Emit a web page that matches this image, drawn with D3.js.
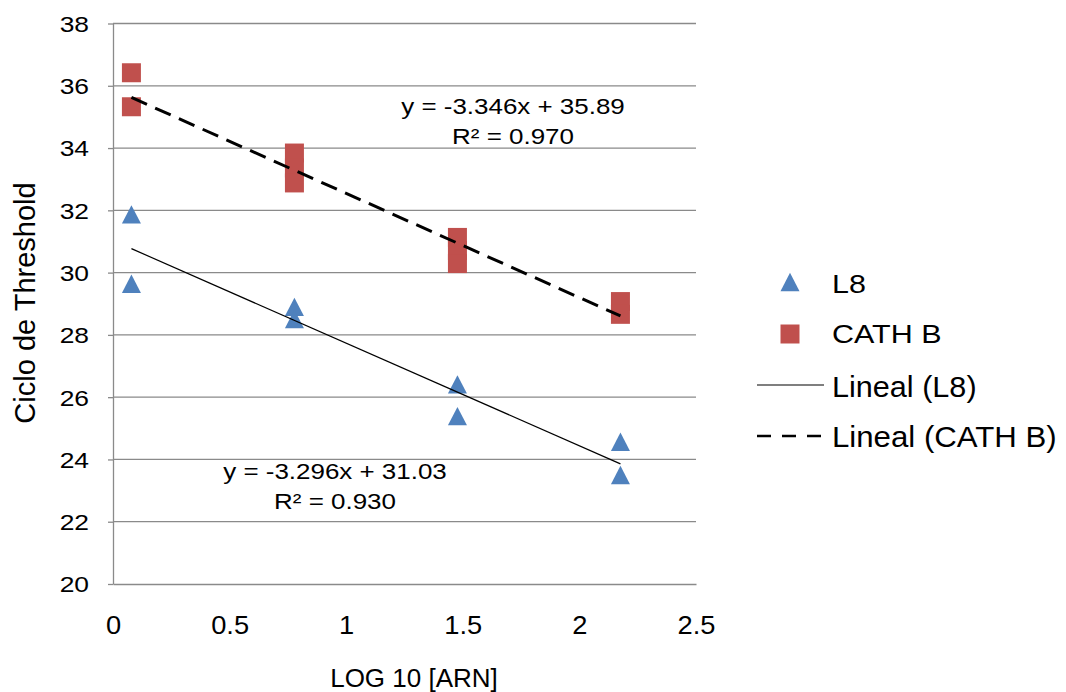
<!DOCTYPE html>
<html>
<head>
<meta charset="utf-8">
<script src="https://cdn.jsdelivr.net/npm/d3@7"></script>
<style>
  html, body { margin: 0; padding: 0; background: #fff; }
  svg { display: block; }
  text { font-family: "Liberation Sans", Arial, sans-serif; fill: #000; }
</style>
</head>
<body>
<svg id="chart" width="1066" height="692"></svg>
<script>
// log10 of RNA amount per replicate
const l8Log = [0.079, 0.079, 0.778, 0.778, 1.477, 1.477, 2.176, 2.176];
const l8Ct = [31.87, 29.64, 28.90, 28.51, 26.41, 25.39, 24.57, 23.50];
const cathLog = [0.079, 0.079, 0.778, 0.778, 0.778, 1.477, 1.477, 1.477, 2.176, 2.176];
const cathCt = [36.42, 35.33, 33.84, 33.36, 32.88, 31.13, 30.71, 30.29, 29.07, 28.66];

// linear fits: [L8, CATH B]
const fitSlope = ["-3.296", "-3.346"];
const fitIntercept = ["31.03", "35.89"];
const fitR2 = ["0.930", "0.970"];

const xTicks = [0, 0.5, 1, 1.5, 2, 2.5];
const yTicks = [20, 22, 24, 26, 28, 30, 32, 34, 36, 38];
const legendLabels = ["L8", "CATH B", "Lineal (L8)", "Lineal (CATH B)"];

const BLUE = "#4F81BD", RED = "#C0504D", GRID = "#8a8a8a";

const svg = d3.select("#chart");
const x = d3.scaleLinear().domain([0, 2.5]).range([113, 696]);
const y = d3.scaleLinear().domain([20, 38]).range([584, 23.5]);

// horizontal gridlines
svg.append("g").selectAll("line").data(yTicks.filter(t => t > 20)).join("line")
  .attr("x1", x(0)).attr("x2", x(2.5))
  .attr("y1", d => y(d)).attr("y2", d => y(d))
  .attr("stroke", GRID).attr("stroke-width", 1.3);

// y axis
const yAxis = svg.append("g").attr("transform", `translate(${x(0)},0)`)
  .call(d3.axisLeft(y).tickValues(yTicks).tickSize(5).tickSizeOuter(0));
yAxis.select(".domain").attr("stroke", GRID).attr("stroke-width", 1.3);
yAxis.selectAll(".tick line").attr("stroke", GRID).attr("stroke-width", 1.3);
yAxis.selectAll(".tick text")
  .attr("x", 0).attr("dy", "0.36em")
  .attr("text-anchor", "end")
  .attr("transform", "translate(-24,0) scale(1.2,1)")
  .style("font-size", "22px").attr("fill", "#000");

// x axis
const xAxis = svg.append("g").attr("transform", `translate(0,${y(20)})`)
  .call(d3.axisBottom(x).tickValues(xTicks).tickSize(0).tickSizeOuter(0).tickFormat(d3.format("")));
xAxis.select(".domain").attr("stroke", GRID).attr("stroke-width", 1.3);
xAxis.selectAll(".tick text")
  .attr("y", 0).attr("dy", 0)
  .attr("text-anchor", "middle")
  .attr("transform", "translate(0,50) scale(1.05,1)")
  .style("font-size", "26px").attr("fill", "#000");

// axis titles
function label(parent, px, py, str, size, sx, anchor, rot) {
  return parent.append("text")
    .attr("transform", `translate(${px},${py}) scale(${sx},1)` + (rot ? ` rotate(${rot})` : ""))
    .attr("text-anchor", anchor)
    .style("font-size", size + "px")
    .text(str);
}
label(svg, 414, 687, "LOG 10 [ARN]", 26, 1, "middle");
label(svg, 35, 303, "Ciclo de Threshold", 29, 1, "middle", -90);

// marker shapes
const tri = (cx, cy) => `M${cx - 9.5},${cy + 9.2}L${cx},${cy - 9.2}L${cx + 9.5},${cy + 9.2}Z`;
const sq = (cx, cy) => `M${cx - 9.5},${cy - 9.5}h19v19h-19Z`;

// trend lines over the measured range
const fitLine = (i, xs) => {
  const m = +fitSlope[i], b = +fitIntercept[i];
  const x0 = d3.min(xs), x1 = d3.max(xs);
  return [[x0, b + m * x0], [x1, b + m * x1]];
};
const line = d3.line().x(d => x(d[0])).y(d => y(d[1]));

// points
svg.append("g").selectAll("path").data(cathLog.map((v, i) => [v, cathCt[i]])).join("path")
  .attr("d", d => sq(x(d[0]), y(d[1]))).attr("fill", RED);
svg.append("g").selectAll("path").data(l8Log.map((v, i) => [v, l8Ct[i]])).join("path")
  .attr("d", d => tri(x(d[0]), y(d[1]))).attr("fill", BLUE);

svg.append("path").attr("d", line(fitLine(0, l8Log)))
  .attr("stroke", "#000").attr("stroke-width", 1.2).attr("fill", "none");
svg.append("path").attr("d", line(fitLine(1, cathLog)))
  .attr("stroke", "#000").attr("stroke-width", 3).attr("stroke-dasharray", "17,9").attr("fill", "none");

// equations
label(svg, 335, 479, `y = ${fitSlope[0]}x + ${fitIntercept[0]}`, 22, 1.18, "middle");
label(svg, 335, 509, `R² = ${fitR2[0]}`, 22, 1.18, "middle");
label(svg, 513, 114, `y = ${fitSlope[1]}x + ${fitIntercept[1]}`, 22, 1.18, "middle");
label(svg, 513, 144, `R² = ${fitR2[1]}`, 22, 1.18, "middle");

// legend
const lg = svg.append("g");
lg.append("path").attr("d", tri(790, 282)).attr("fill", BLUE);
lg.append("path").attr("d", sq(790, 334)).attr("fill", RED);
lg.append("line").attr("x1", 757).attr("x2", 824).attr("y1", 385).attr("y2", 385)
  .attr("stroke", "#000").attr("stroke-width", 1.2);
lg.append("line").attr("x1", 757).attr("x2", 824).attr("y1", 436).attr("y2", 436)
  .attr("stroke", "#000").attr("stroke-width", 2.5).attr("stroke-dasharray", "14,11");
label(lg, 832, 293, legendLabels[0], 25, 1.22, "start");
label(lg, 832, 343, legendLabels[1], 25, 1.22, "start");
label(lg, 832, 397, legendLabels[2], 30, 1.02, "start");
label(lg, 832, 447, legendLabels[3], 30, 1.04, "start");
</script>
</body>
</html>
